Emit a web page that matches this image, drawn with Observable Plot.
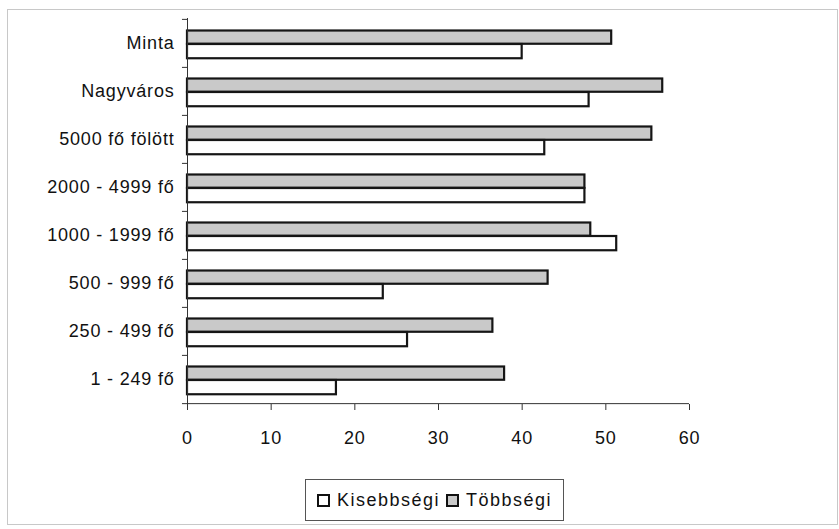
<!DOCTYPE html>
<html>
<head>
<meta charset="utf-8">
<script src="https://cdn.jsdelivr.net/npm/d3@7"></script>
<script src="https://cdn.jsdelivr.net/npm/@observablehq/plot@0.6"></script>
<style>
  html, body { margin: 0; padding: 0; background: #fff; }
  #wrap { position: relative; width: 839px; height: 529px; font-family: "Liberation Sans", Arial, sans-serif; color: #111; }
  #border { position: absolute; left: 7px; top: 9px; width: 831px; height: 516px; border: 1px solid #c8c8c8; box-sizing: border-box; }
  #chart { position: absolute; left: 0; top: 0; }
  #chart svg text { letter-spacing: 0.8px; }
  #legend { position: absolute; left: 305px; top: 479px; width: 259px; height: 42px; border: 1px solid #555; box-sizing: border-box;
            display: flex; align-items: center; justify-content: center; font-size: 18px; letter-spacing: 1.5px; background: #fff; }
  .sw { display: inline-block; width: 9px; height: 9px; border: 2px solid #111; margin: 0 7px 0 0; }
  .item { display: flex; align-items: center; margin: 0 3px; }
</style>
</head>
<body>
<div id="wrap">
  <div id="border"></div>
  <div id="chart"></div>
  <div id="legend"></div>
</div>
<script>
const categories = ["Minta", "Nagyváros", "5000 fő fölött", "2000 - 4999 fő", "1000 - 1999 fő", "500 - 999 fő", "250 - 499 fő", "1 - 249 fő"];
const tobbsegi   = [50.7, 56.8, 55.5, 47.5, 48.2, 43.1, 36.5, 37.9];
const kisebbsegi = [40.0, 48.0, 42.7, 47.5, 51.3, 23.4, 26.3, 17.8];
const xTicks = [0, 10, 20, 30, 40, 50, 60];
const seriesNames = ["Kisebbségi", "Többségi"];
const seriesColors = ["#ffffff", "#c9c9c9"];

const W = 839, H = 470, mT = 18, mB = 66, mL = 187, mR = 150;
const band = (H - mT - mB) / categories.length;

const rowsT = categories.map((c, i) => ({cat: c, v: tobbsegi[i]}));
const rowsK = categories.map((c, i) => ({cat: c, v: kisebbsegi[i]}));

const chart = Plot.plot({
  width: W, height: H,
  marginTop: mT, marginBottom: mB, marginLeft: mL, marginRight: mR,
  style: {fontFamily: "'Liberation Sans', Arial, sans-serif", fontSize: "18px", color: "#111", background: "transparent"},
  x: {domain: [0, 60]},
  y: {domain: categories, padding: 0},
  marks: [
    Plot.barX(rowsT, {y: "cat", x: "v", fill: seriesColors[1], stroke: "#151515", strokeWidth: 2.2, insetTop: 11.5, insetBottom: band - 25}),
    Plot.barX(rowsK, {y: "cat", x: "v", fill: seriesColors[0], stroke: "#151515", strokeWidth: 2.2, insetTop: 25, insetBottom: band - 39.5}),
    Plot.ruleX([0], {stroke: "#333", strokeWidth: 1}),
    Plot.ruleY(categories, {y: d => d, x1: -0.6, x2: 0, dy: -band / 2, stroke: "#333"}),
    Plot.ruleY([categories[categories.length - 1]], {y: d => d, x1: -0.6, x2: 60, dy: band / 2, stroke: "#333"}),
    Plot.axisY({tickSize: 0, tickPadding: 13, fontSize: 18, label: null}),
    Plot.axisX({ticks: xTicks, tickSize: 6, tickPadding: 21, fontSize: 18, label: null, stroke: "#333"})
  ]
});
document.getElementById("chart").appendChild(chart);

const legend = document.getElementById("legend");
seriesNames.forEach((n, i) => {
  const it = document.createElement("span");
  it.className = "item";
  const sw = document.createElement("span");
  sw.className = "sw";
  sw.style.background = seriesColors[i];
  it.appendChild(sw);
  it.appendChild(document.createTextNode(n));
  legend.appendChild(it);
});
</script>
</body>
</html>
